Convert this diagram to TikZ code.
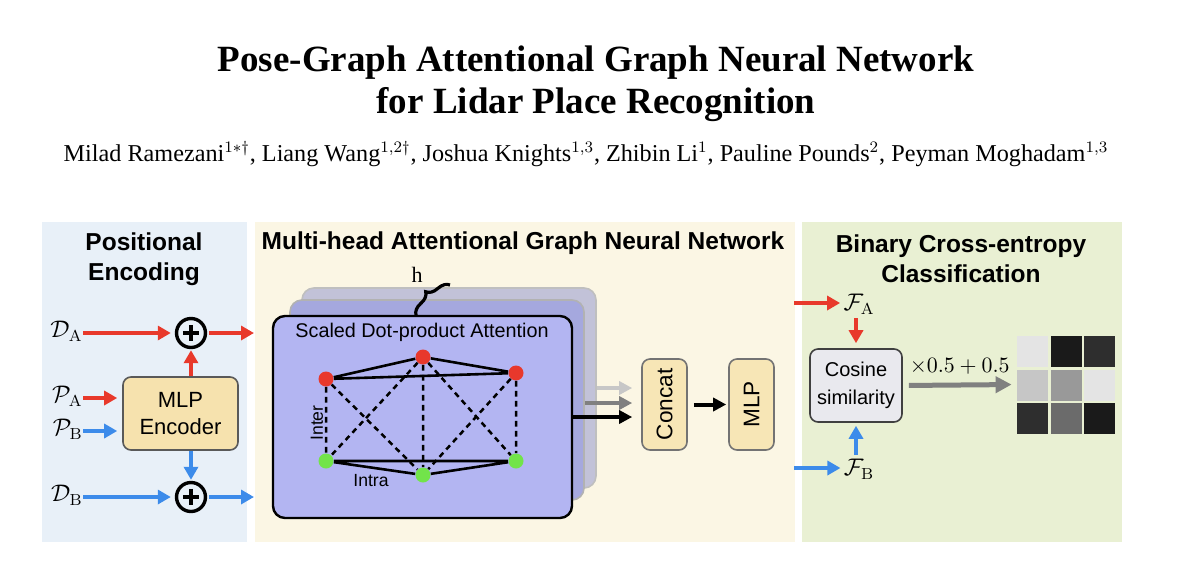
\documentclass[tikz,border=0pt]{standalone}
\usepackage{fontspec}
\usetikzlibrary{arrows.meta,decorations.pathreplacing,calc}
\newfontfamily\hsans{Liberation Sans}
\newfontfamily\tser{Liberation Serif}
\definecolor{bgblue}{HTML}{E8F0F8}
\definecolor{bgcream}{HTML}{FBF6E4}
\definecolor{bggreen}{HTML}{E9F0D3}
\definecolor{tanfill}{HTML}{F6E2AE}
\definecolor{tanfill2}{HTML}{F7E6B6}
\definecolor{redA}{HTML}{E8392B}
\definecolor{blueB}{HTML}{3C8BEA}
\definecolor{lavfront}{HTML}{B3B5F2}
\definecolor{lavmid}{HTML}{A5A8DE}
\definecolor{lavback}{HTML}{C2C2D8}
\definecolor{nodered}{HTML}{E8382C}
\definecolor{nodegreen}{HTML}{72E44A}
\definecolor{cosfill}{HTML}{E9E9EE}
\begin{document}
\begin{tikzpicture}[x=0.5pt,y=-0.5pt,
  arr/.style={line width=2.2pt,-{Triangle[length=6.5pt,width=7pt]}},
  arrR/.style={arr,draw=redA,fill=redA},
  arrB/.style={arr,draw=blueB,fill=blueB},
  arrK/.style={line width=2pt,-{Triangle[length=6.5pt,width=6.5pt]}},
  plusnode/.style={circle,draw,line width=1.7pt,minimum size=14.5pt,inner sep=0pt,
    path picture={\draw[line width=1.6pt]
      ([yshift=-3.2pt]path picture bounding box.north) -- ([yshift=3.2pt]path picture bounding box.south)
      ([xshift=3.2pt]path picture bounding box.west) -- ([xshift=-3.2pt]path picture bounding box.east);}},
  headtxt/.style={font=\hsans\bfseries\fontsize{12.25}{15}\selectfont,align=center,inner sep=0pt},
  mlab/.style={font=\fontsize{12}{14}\selectfont,inner sep=0pt},
  tanbox/.style={draw=black!65,line width=0.8pt,fill=tanfill,rounded corners=4pt,
    font=\hsans\fontsize{11}{13.5}\selectfont,align=center,inner sep=0pt},
  gnode/.style={circle,minimum size=7.5pt,inner sep=0pt},
  solidedge/.style={line width=1.3pt},
  dashedge/.style={line width=1.25pt,dash pattern=on 2.8pt off 2.2pt},
]
\useasboundingbox (0,0) rectangle (1200,580);
\fill[white] (0,0) rectangle (1200,580);

% title and authors
\node[font=\tser\bfseries\fontsize{18.5}{20}\selectfont,anchor=base,inner sep=0pt] (t1) at (596,71) {Pose-Graph Attentional Graph Neural Network};
\node[font=\tser\bfseries\fontsize{18.5}{20}\selectfont,anchor=base,inner sep=0pt] (t2) at (596,113) {for Lidar Place Recognition};
\node[font=\tser\fontsize{12.1}{14}\selectfont,anchor=base,inner sep=0pt] (auth) at (586,161)
 {Milad Ramezani$^{1*\dagger}$, Liang Wang$^{1,2\dagger}$, Joshua Knights$^{1,3}$, Zhibin Li$^{1}$, Pauline Pounds$^{2}$, Peyman Moghadam$^{1,3}$};

% panels
\fill[bgblue] (42,222) rectangle (247,542);
\fill[bgcream] (255,222) rectangle (795,542);
\fill[bggreen] (802,222) rectangle (1122,542);

\node[headtxt] (hpos) at (144,259) {Positional\\Encoding};
\node[headtxt] (hmh) at (523,243) {Multi-head Attentional Graph Neural Network};
\node[headtxt] (hbce) at (961,259) {Binary Cross-entropy\\Classification};

% ---------- positional encoding ----------
\node[mlab,anchor=east] (DA) at (83,331) {$\mathcal{D}_\mathrm{A}$};
\node[mlab,anchor=east] (PA) at (83,396) {$\mathcal{P}_\mathrm{A}$};
\node[mlab,anchor=east] (PB) at (83,429) {$\mathcal{P}_\mathrm{B}$};
\node[mlab,anchor=east] (DB) at (83,495) {$\mathcal{D}_\mathrm{B}$};
\node[plusnode] (plusA) at (191,333) {};
\node[plusnode] (plusB) at (191,497) {};
\node[tanbox,minimum width=57.5pt,minimum height=36.5pt] (enc) at (180.5,413.5) {MLP\\Encoder};
\coordinate (oA) at (254,333);
\coordinate (oB) at (254,497);
\draw[arrR,shorten >=2pt] (DA.east |- plusA) -- (plusA.west);
\draw[arrB,shorten >=2pt] (DB.east |- plusB) -- (plusB.west);
\draw[arrR,shorten >=2.5pt] (PA.east |- 0,398) -- (enc.west |- 0,398);
\draw[arrB,shorten >=2.5pt] (PB.east |- 0,431) -- (enc.west |- 0,431);
\draw[arrR,shorten >=0.5pt] (enc.north -| plusA) -- (plusA.south);
\draw[arrB,shorten >=0.5pt] (enc.south -| plusB) -- (plusB.north);
\draw[arrR,shorten <=1pt] (plusA.east) -- (oA);
\draw[arrB,shorten <=1pt] (plusB.east) -- (oB);

% ---------- multi-head attention ----------
\node[draw=black!25,line width=0.8pt,fill=lavback,rounded corners=6pt,minimum width=147pt,minimum height=100pt] (back) at (449,388) {};
\node[draw=black!30,line width=0.8pt,fill=lavmid,rounded corners=6pt,minimum width=147pt,minimum height=100pt] (mid) at (437,400) {};
\node[draw=black,line width=1.2pt,fill=lavfront,rounded corners=6pt,minimum width=149.5pt,minimum height=101pt] (front) at (422.5,417) {};
\node[font=\hsans\fontsize{9.9}{12}\selectfont,inner sep=0pt] (sdpa) at (422,332) {Scaled Dot-product Attention};

\coordinate (brA) at (416,315);
\coordinate (brB) at (450,285);
\draw[line width=1.6pt,decorate,decoration={brace,amplitude=5.5pt}] (brA) -- (brB);
\node[font=\tser\fontsize{11}{12}\selectfont,inner sep=0pt] (hlab) at (417,275) {h};

\node[gnode,fill=nodered] (r1) at (326,379) {};
\node[gnode,fill=nodered] (r2) at (423,357) {};
\node[gnode,fill=nodered] (r3) at (516,373) {};
\node[gnode,fill=nodegreen] (g1) at (326,461) {};
\node[gnode,fill=nodegreen] (g2) at (423,475) {};
\node[gnode,fill=nodegreen] (g3) at (516,461) {};
\draw[solidedge] (r1) -- (r2) -- (r3) (r1) -- (r3);
\draw[solidedge] (g1) -- (g2) -- (g3) (g1) -- (g3);
\draw[dashedge] (r1) -- (g1) (r1) -- (g2) (r2) -- (g1) (r2) -- (g2) (r2) -- (g3) (r3) -- (g2) (r3) -- (g3);
\node[font=\hsans\fontsize{8.8}{10}\selectfont,rotate=90,inner sep=0pt] (inter) at (317,423) {Inter};
\node[font=\hsans\fontsize{8.8}{10}\selectfont,inner sep=0pt] (intra) at (371,481) {Intra};

\node[tanbox,fill=tanfill2,draw=black!55,minimum width=22.5pt,minimum height=45.5pt] (concat) at (664.5,404.5) {};
\node[font=\hsans\fontsize{11.3}{13}\selectfont,rotate=90,inner sep=0pt] (concatlab) at (concat) {Concat};
\node[tanbox,fill=tanfill2,draw=black!55,minimum width=22.5pt,minimum height=45.5pt] (mlp) at (751.5,404.5) {};
\node[font=\hsans\fontsize{11.3}{13}\selectfont,rotate=90,inner sep=0pt] (mlplab) at (mlp) {MLP};

\draw[arrK,draw=black!22,fill=black!22,shorten >=4.5pt] (back.east) -- (back.east -| concat.west);
\draw[arrK,draw=black!50,fill=black!50,shorten >=4.5pt] ([yshift=-1.5pt]mid.east) -- ([yshift=-1.5pt]mid.east -| concat.west);
\draw[arrK,draw=black,fill=black,shorten >=4.5pt] (front.east) -- (front.east -| concat.west);
\draw[arrK,shorten <=3pt,shorten >=1pt] (concat.east) -- (mlp.west);

% ---------- binary cross-entropy ----------
\node[mlab] (FA) at (859,304) {$\mathcal{F}_\mathrm{A}$};
\node[mlab] (FB) at (859,469) {$\mathcal{F}_\mathrm{B}$};
\node[draw=black!75,line width=0.8pt,fill=cosfill,rounded corners=4pt,minimum width=46pt,minimum height=36.5pt,
  font=\hsans\fontsize{10}{14}\selectfont,align=center,inner sep=0pt] (cos) at (856,385.5) {Cosine\\similarity};
\coordinate (iA) at (794,303);
\coordinate (iB) at (794,468);
\draw[arrR,shorten >=1.5pt] (iA) -- (FA.west |- iA);
\draw[arrB,shorten >=1.5pt] (iB) -- (FB.west |- iB);
\draw[arrR,shorten <=2pt,shorten >=2.5pt] (cos.north |- FA.south) -- (cos.north);
\draw[arrB,shorten <=2pt,shorten >=1.5pt] (cos.south |- FB.north) -- (cos.south);

\node[minimum width=49pt,minimum height=49pt,inner sep=0pt] (mat) at (1066,384.5) {};
\foreach \c [count=\i from 0] in {E4E4E4,1A1A1A,2E2E2E,C6C6C6,999999,E4E4E4,2E2E2E,6B6B6B,1A1A1A}{
  \pgfmathtruncatemacro\row{int(\i/3)}
  \pgfmathtruncatemacro\col{mod(\i,3)}
  \definecolor{cellc}{HTML}{\c}
  \fill[cellc] (1017+\col*33.5,336+\row*33.5) rectangle ++(31,31);
}
\draw[line width=2.5pt,draw=black!50,-{Triangle[length=8pt,width=8pt]},shorten <=3pt,shorten >=2.5pt] (cos.east) -- (mat.west)
  node[midway,above=4pt,font=\fontsize{10.5}{12}\selectfont,inner sep=0pt] (scl) {$\times0.5+0.5$};
\end{tikzpicture}
\end{document}
